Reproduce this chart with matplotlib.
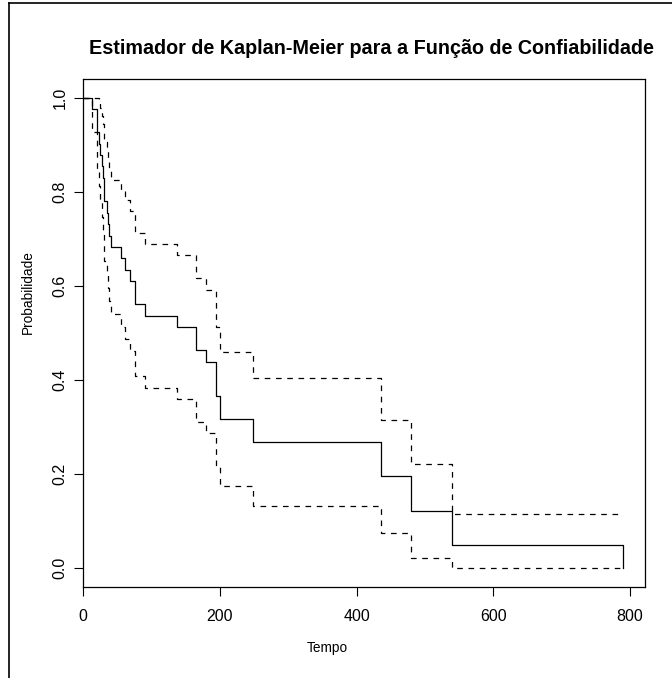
import matplotlib
matplotlib.use("Agg")
import matplotlib.pyplot as plt
from matplotlib.lines import Line2D

plt.rcParams['font.family'] = ['Liberation Sans', 'DejaVu Sans']

# Kaplan-Meier: tempos dos saltos e valores
tempo = [0, 12.7, 20, 22.4, 25, 27, 29, 31, 34, 36, 38, 41, 55, 60.4, 67.7,
         75, 91, 137, 165, 180, 193.5, 200, 249, 436, 480, 540, 790]
surv = [1.0, 0.976, 0.927, 0.902, 0.878, 0.854, 0.829, 0.780, 0.756, 0.732,
        0.707, 0.683, 0.659, 0.634, 0.610, 0.561, 0.537, 0.512, 0.463, 0.439,
        0.366, 0.317, 0.268, 0.195, 0.122, 0.049, 0.0]
upper = [1.0, 1.0, 1.0, 0.993, 0.978, 0.962, 0.945, 0.907, 0.888, 0.867,
         0.847, 0.825, 0.804, 0.782, 0.759, 0.713, 0.689, 0.665, 0.616, 0.591,
         0.513, 0.460, 0.404, 0.316, 0.222, 0.115, 0.115]
lower = [1.0, 0.928, 0.847, 0.812, 0.778, 0.746, 0.714, 0.654, 0.625, 0.596,
         0.568, 0.541, 0.513, 0.487, 0.461, 0.409, 0.384, 0.359, 0.311, 0.287,
         0.218, 0.175, 0.133, 0.074, 0.022, 0.0, 0.0]

xticks = [0, 200, 400, 600, 800]
yticks = [0.0, 0.2, 0.4, 0.6, 0.8, 1.0]

W, H = 672, 678
fig = plt.figure(figsize=(W / 100, H / 100), dpi=100)
ax = fig.add_axes([83.3 / W, 1 - 587 / H, (645 - 83.3) / W, (587 - 79) / H])

ax.step(tempo, surv, where='post', color='black', lw=0.9)
ax.step(tempo, upper, where='post', color='black', lw=0.9, linestyle=(0, (4.5, 4.5)))
ax.step(tempo, lower, where='post', color='black', lw=0.9, linestyle=(0, (4.5, 4.5)))

ax.set_xlim(0, 822)
ax.set_ylim(-0.04, 1.04)
ax.set_xticks(xticks)
ax.set_xticklabels([str(v) for v in xticks])
ax.set_yticks(yticks)
ax.set_yticklabels(["%.1f" % v for v in yticks], rotation=90, va='center')
ax.tick_params(direction='out', length=6.5, width=0.8, labelsize=11.5, color='black')
ax.tick_params(axis='x', pad=9)
ax.tick_params(axis='y', pad=5)
for s in ax.spines.values():
    s.set_linewidth(0.9)

fig.text(371 / W, 1 - 48 / H, "Estimador de Kaplan-Meier para a Função de Confiabilidade",
         ha='center', va='center', fontsize=14.2, fontweight='bold')
fig.text(327 / W, 1 - 648 / H, "Tempo", ha='center', va='center', fontsize=9.8)
fig.text(28 / W, 1 - 292 / H, "Probabilidade", ha='center', va='center',
         rotation=90, fontsize=9.8)

# moldura externa (esquerda e topo)
fig.add_artist(Line2D([9 / W, 9 / W], [0, 1 - 3 / H], transform=fig.transFigure,
                      color='black', lw=1.2))
fig.add_artist(Line2D([9 / W, 1], [1 - 3 / H, 1 - 3 / H], transform=fig.transFigure,
                      color='black', lw=1.2))

fig.savefig("out.png", dpi=100)
